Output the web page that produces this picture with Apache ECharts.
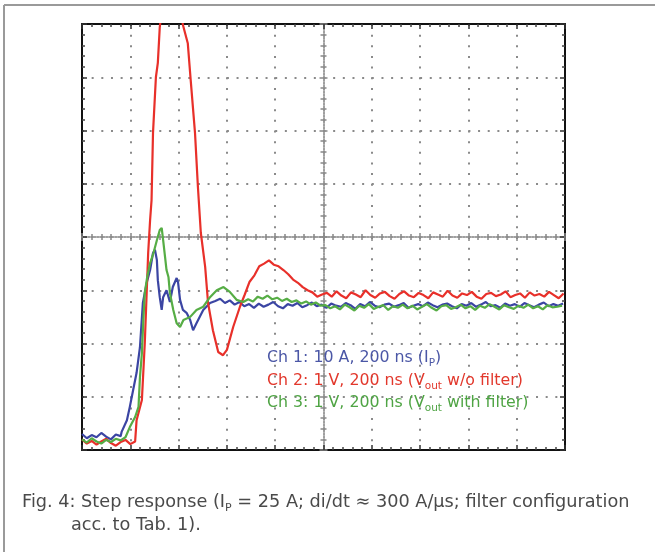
<!DOCTYPE html>
<html>
<head>
<meta charset="utf-8">
<script src="https://cdn.jsdelivr.net/npm/echarts@6/dist/echarts.min.js"></script>
<style>
  html, body { margin: 0; padding: 0; background: #fff; }
  #chart { width: 655px; height: 552px; }
</style>
</head>
<body>
<div id="chart"></div>
<script>
// Time axis: ns (200 ns/div), screen from -1000 to +1000 ns. Vertical: screen divisions (-4..4).
const timeTicks = { min: -1000, max: 1000, interval: 200 };
const divTicks = { min: -4, max: 4, interval: 1 };

// Ch 1 (10 A/div) – current step I_P
const ch1Time = [-1000,-980,-960,-940,-920,-900,-880,-860,-840,-836,-814,-802,-788,-774,-760,-748,-732,-718,-706,-698,-690,-686,-678,-670,-664,-650,-636,-624,-608,-602,-594,-582,-566,-552,-540,-526,-498,-470,-448,-428,-408,-388,-368,-348,-328,-308,-288];
const ch1Div  = [-3.70,-3.78,-3.72,-3.76,-3.68,-3.75,-3.80,-3.71,-3.74,-3.66,-3.44,-3.19,-2.87,-2.55,-2.07,-1.24,-0.86,-0.62,-0.30,-0.24,-0.43,-0.81,-1.13,-1.37,-1.13,-1.00,-1.22,-0.94,-0.77,-0.86,-1.18,-1.37,-1.43,-1.56,-1.75,-1.62,-1.37,-1.24,-1.20,-1.16,-1.24,-1.19,-1.27,-1.22,-1.30,-1.26,-1.33];
const ch1TailStart = -268;
const ch1Tail = [-1.25,-1.31,-1.27,-1.22,-1.30,-1.34,-1.26,-1.29,-1.24,-1.32,-1.28,-1.23,-1.30,-1.27,-1.33,-1.25,-1.29,-1.31,-1.24,-1.28,-1.35,-1.26,-1.30,-1.22,-1.29,-1.32,-1.27,-1.25,-1.31,-1.28,-1.24,-1.33,-1.29,-1.26,-1.30,-1.23,-1.28,-1.32,-1.27,-1.25,-1.30,-1.34,-1.26,-1.29,-1.24,-1.31,-1.27,-1.22,-1.30,-1.28,-1.33,-1.25,-1.29,-1.26,-1.31,-1.24,-1.28,-1.32,-1.27,-1.23,-1.30,-1.26,-1.29,-1.25];

// Ch 2 (1 V/div) – V_out without filter
const ch2Time = [-1000,-980,-960,-940,-920,-900,-880,-860,-840,-820,-800,-780,-774,-752,-740,-726,-718,-712,-706,-694,-686,-678,-660,-630,-600,-582,-562,-550,-532,-520,-508,-490,-478,-458,-436,-416,-400,-374,-346,-326,-306,-286,-266,-246,-226,-206,-186,-166,-146,-126,-106,-86,-66,-46,-26,-6];
const ch2Div  = [-3.80,-3.88,-3.83,-3.90,-3.84,-3.79,-3.87,-3.92,-3.85,-3.81,-3.89,-3.84,-3.44,-3.06,-1.99,-0.30,0.32,0.69,1.95,3.00,3.27,3.94,4.60,4.90,4.50,3.98,3.64,2.95,1.95,0.94,0.08,-0.56,-1.24,-1.75,-2.16,-2.22,-2.12,-1.69,-1.31,-1.08,-0.84,-0.72,-0.55,-0.50,-0.44,-0.52,-0.55,-0.62,-0.70,-0.80,-0.86,-0.94,-1.00,-1.04,-1.12,-1.08];
const ch2TailStart = 14;
const ch2Tail = [-1.05,-1.12,-1.02,-1.10,-1.15,-1.04,-1.08,-1.13,-1.00,-1.09,-1.14,-1.06,-1.03,-1.11,-1.16,-1.07,-1.02,-1.10,-1.13,-1.05,-1.09,-1.15,-1.04,-1.08,-1.12,-1.01,-1.10,-1.14,-1.06,-1.09,-1.03,-1.12,-1.16,-1.07,-1.05,-1.11,-1.08,-1.02,-1.13,-1.09,-1.06,-1.14,-1.04,-1.10,-1.07,-1.12,-1.03,-1.09,-1.15,-1.06];

// Ch 3 (1 V/div) – V_out with filter
const ch3Time = [-1000,-980,-960,-940,-920,-900,-880,-860,-840,-820,-802,-780,-766,-760,-752,-746,-740,-730,-718,-704,-690,-678,-670,-664,-656,-650,-642,-636,-622,-608,-594,-580,-552,-526,-498,-470,-442,-414,-388,-360,-332,-312,-292,-272,-252,-232,-212,-192,-172,-152,-132,-112,-92,-72,-52,-32,-12];
const ch3Div  = [-3.80,-3.86,-3.78,-3.84,-3.88,-3.81,-3.85,-3.79,-3.82,-3.76,-3.57,-3.38,-3.19,-2.63,-2.18,-1.56,-1.05,-0.75,-0.49,-0.30,-0.06,0.13,0.17,-0.06,-0.38,-0.62,-0.75,-1.05,-1.37,-1.62,-1.69,-1.56,-1.50,-1.37,-1.31,-1.13,-1.00,-0.94,-1.03,-1.18,-1.22,-1.17,-1.21,-1.12,-1.16,-1.10,-1.17,-1.14,-1.20,-1.16,-1.22,-1.19,-1.25,-1.21,-1.27,-1.23,-1.29];
const ch3TailStart = 8;
const ch3Tail = [-1.28,-1.34,-1.30,-1.36,-1.27,-1.32,-1.38,-1.29,-1.33,-1.26,-1.35,-1.31,-1.28,-1.37,-1.30,-1.33,-1.27,-1.34,-1.29,-1.36,-1.31,-1.26,-1.33,-1.38,-1.30,-1.28,-1.35,-1.32,-1.27,-1.34,-1.30,-1.37,-1.29,-1.33,-1.26,-1.31,-1.36,-1.28,-1.32,-1.35,-1.29,-1.33,-1.27,-1.34,-1.30,-1.36,-1.28,-1.32,-1.31,-1.29];

const tailStep = 20; // oscilloscope sample spacing for the settled parts (ns)

const legendLines = [
  { ch: 'Ch 1: 10 A, 200 ns (I', sub: 'P', rest: ')', color: '#4b57a6' },
  { ch: 'Ch 2: 1 V, 200 ns (V', sub: 'out', rest: ' w/o filter)', color: '#e2382c' },
  { ch: 'Ch 3: 1 V, 200 ns (V', sub: 'out', rest: ' with filter)', color: '#4fa444' }
];
const captionLine1 = ['Fig. 4: Step response (I', 'P', ' = 25 A; di/dt \u2248 300 A/\u00b5s; filter configuration'];
const captionLine2 = 'acc. to Tab. 1).';

function build(times, vals, tailStart, tail) {
  const d = times.map((t, i) => [t, vals[i]]);
  tail.forEach((v, i) => d.push([tailStart + i * tailStep, v]));
  return d;
}

const GRID = { left: 82, top: 24, width: 483, height: 426 };
const dotH = 48.3 / 5, dotV = 53.25 / 5;

function frameX(pos, split) {
  return {
    type: 'value', position: pos, min: timeTicks.min, max: timeTicks.max, interval: timeTicks.interval,
    axisLine: { show: true, onZero: false, lineStyle: { color: '#111', width: 2 } },
    axisTick: { show: true, inside: true, length: 5, lineStyle: { color: '#333', width: 1.5 } },
    minorTick: { show: true, splitNumber: 5, length: 3, lineStyle: { color: '#444', width: 1.5 } },
    axisLabel: { show: false },
    splitLine: { show: split, lineStyle: { color: '#8a8a8a', width: 2, type: [2, dotV - 2] } }
  };
}
function frameY(pos, split) {
  return {
    type: 'value', position: pos, min: divTicks.min, max: divTicks.max, interval: divTicks.interval,
    axisLine: { show: true, onZero: false, lineStyle: { color: '#111', width: 2 } },
    axisTick: { show: true, inside: true, length: 5, lineStyle: { color: '#333', width: 1.5 } },
    minorTick: { show: true, splitNumber: 5, length: 3, lineStyle: { color: '#444', width: 1.5 } },
    axisLabel: { show: false },
    splitLine: { show: split, lineStyle: { color: '#8a8a8a', width: 2, type: [2, dotH - 2] } }
  };
}
function centerX(inside) {
  return {
    type: 'value', position: 'bottom', min: timeTicks.min, max: timeTicks.max, interval: timeTicks.interval,
    axisLine: { show: true, onZero: true, onZeroAxisIndex: 0, lineStyle: { color: '#999', width: 1.5, type: [1.5, 1.5] } },
    axisTick: { show: true, inside: inside, length: 4, lineStyle: { color: '#888', width: 1.5 } },
    minorTick: { show: true, splitNumber: 5, length: 3, lineStyle: { color: '#888', width: 1.5 } },
    axisLabel: { show: false }, splitLine: { show: false }
  };
}
function centerY(inside) {
  return {
    type: 'value', position: 'left', min: divTicks.min, max: divTicks.max, interval: divTicks.interval,
    axisLine: { show: true, onZero: true, onZeroAxisIndex: 0, lineStyle: { color: '#999', width: 1.5, type: [1.5, 1.5] } },
    axisTick: { show: true, inside: inside, length: 4, lineStyle: { color: '#888', width: 1.5 } },
    minorTick: { show: true, splitNumber: 5, length: 3, lineStyle: { color: '#888', width: 1.5 } },
    axisLabel: { show: false }, splitLine: { show: false }
  };
}

const chart = echarts.init(document.getElementById('chart'), null, { renderer: 'canvas' });

const textFont = '"DejaVu Sans", "Liberation Sans", Arial, sans-serif';
const graphics = [
  { type: 'line', shape: { x1: 4, y1: 5, x2: 655, y2: 5 }, style: { stroke: '#9a9a9a', lineWidth: 2 }, z: 10 },
  { type: 'line', shape: { x1: 4, y1: 5, x2: 4, y2: 552 }, style: { stroke: '#9a9a9a', lineWidth: 2 }, z: 10 }
];
legendLines.forEach((l, i) => {
  graphics.push({
    type: 'text', left: 267, top: 350 + i * 22.5, z: 20,
    style: {
      text: '{m|' + l.ch + '}{s|' + l.sub + '}{m|' + l.rest + '}',
      rich: {
        m: { fontSize: 15.8, fontFamily: textFont, fontWeight: 'normal', fill: l.color, lineHeight: 18, verticalAlign: 'bottom' },
        s: { fontSize: 10.5, fontFamily: textFont, fontWeight: 'normal', fill: l.color, lineHeight: 18, verticalAlign: 'bottom', padding: [0, 0, -3, 0] }
      }
    }
  });
});
graphics.push({
  type: 'text', left: 22, top: 493, z: 20,
  style: {
    text: '{m|' + captionLine1[0] + '}{s|' + captionLine1[1] + '}{m|' + captionLine1[2] + '}',
    rich: {
      m: { fontSize: 17.7, fontFamily: textFont, fontWeight: 'normal', fill: '#4a4a4a', lineHeight: 20, verticalAlign: 'bottom' },
      s: { fontSize: 11, fontFamily: textFont, fontWeight: 'normal', fill: '#4a4a4a', lineHeight: 20, verticalAlign: 'bottom', padding: [0, 0, -3, 0] }
    }
  }
});
graphics.push({
  type: 'text', left: 71, top: 516, z: 20,
  style: { text: captionLine2, fontSize: 17.7, fontFamily: textFont, fontWeight: 'normal', fill: '#4a4a4a' }
});

chart.setOption({
  animation: false,
  backgroundColor: '#fff',
  grid: GRID,
  xAxis: [frameX('bottom', true), frameX('top', false), centerX(true), centerX(false)],
  yAxis: [frameY('left', true), frameY('right', false), centerY(true), centerY(false)],
  graphic: graphics,
  series: [
    { name: 'Ch 1', type: 'line', xAxisIndex: 0, yAxisIndex: 0, showSymbol: false, clip: true, z: 3,
      lineStyle: { color: '#3b45a3', width: 2.2 }, data: build(ch1Time, ch1Div, ch1TailStart, ch1Tail) },
    { name: 'Ch 2', type: 'line', xAxisIndex: 0, yAxisIndex: 0, showSymbol: false, clip: true, z: 4,
      lineStyle: { color: '#e8302a', width: 2.2 }, data: build(ch2Time, ch2Div, ch2TailStart, ch2Tail) },
    { name: 'Ch 3', type: 'line', xAxisIndex: 0, yAxisIndex: 0, showSymbol: false, clip: true, z: 5,
      lineStyle: { color: '#56ad45', width: 2.2 }, data: build(ch3Time, ch3Div, ch3TailStart, ch3Tail) }
  ]
});
</script>
</body>
</html>
